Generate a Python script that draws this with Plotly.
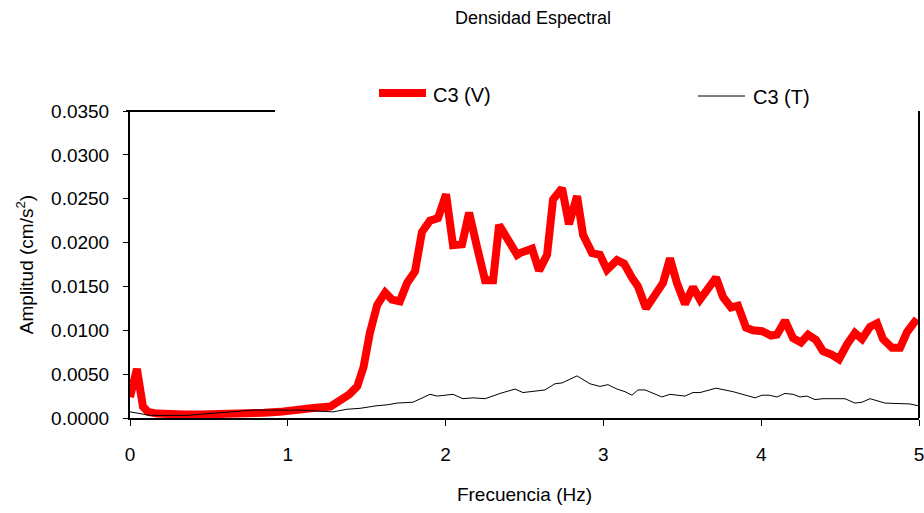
import plotly.graph_objects as go

# C3 (V) - red thick series
freq_v = [0.000, 0.044, 0.082, 0.114, 0.171, 0.25, 0.35, 0.45, 0.55, 0.65, 0.75, 0.85, 0.95, 1.05,
          1.147, 1.27, 1.33, 1.39, 1.44, 1.48, 1.52, 1.567, 1.617, 1.66, 1.71, 1.756, 1.806, 1.85,
          1.901, 1.952, 2.003, 2.047, 2.104, 2.149, 2.199, 2.250, 2.301, 2.339, 2.396, 2.453,
          2.47, 2.548, 2.592, 2.643, 2.681, 2.738, 2.782, 2.833, 2.871, 2.928, 2.978, 3.023,
          3.086, 3.131, 3.181, 3.219, 3.270, 3.327, 3.378, 3.422, 3.466, 3.517, 3.568, 3.612,
          3.663, 3.714, 3.758, 3.809, 3.853, 3.904, 3.948, 4.005, 4.062, 4.100, 4.151, 4.202,
          4.252, 4.297, 4.347, 4.392, 4.449, 4.493, 4.544, 4.594, 4.639, 4.690, 4.734, 4.772,
          4.829, 4.880, 4.924, 4.987]
amp_v = [0.0024, 0.0056, 0.0013, 0.0007, 0.0005, 0.0004, 0.0004, 0.0004, 0.0004, 0.0005, 0.0005,
         0.0006, 0.0007, 0.0008, 0.0011, 0.0013, 0.0019, 0.0027, 0.0036, 0.0058, 0.0097, 0.0129,
         0.0143, 0.0135, 0.0133, 0.0154, 0.0167, 0.0212, 0.0225, 0.0228, 0.0255, 0.0197, 0.0198,
         0.0234, 0.0195, 0.0157, 0.0157, 0.0220, 0.0203, 0.0186, 0.0188, 0.0193, 0.0168, 0.0186,
         0.0249, 0.0262, 0.0221, 0.0253, 0.0209, 0.0188, 0.0186, 0.0169, 0.0180, 0.0176, 0.0160,
         0.0150, 0.0125, 0.0140, 0.0154, 0.0182, 0.0154, 0.0130, 0.0149, 0.0135, 0.0146, 0.0160,
         0.0138, 0.0126, 0.0128, 0.0103, 0.0100, 0.0099, 0.0094, 0.0095, 0.0111, 0.0091, 0.0086,
         0.0095, 0.0089, 0.0076, 0.0072, 0.0067, 0.0084, 0.0097, 0.0090, 0.0104, 0.0108, 0.0090,
         0.0080, 0.0080, 0.0098, 0.0113]

# C3 (T) - thin black series
freq_t = [0.000, 0.127, 0.361, 0.570, 0.779, 1.077, 1.286, 1.375, 1.457, 1.565, 1.629, 1.692,
          1.793, 1.901, 1.946, 2.047, 2.110, 2.174, 2.250, 2.345, 2.440, 2.490, 2.630, 2.693,
          2.738, 2.833, 2.915, 2.978, 3.029, 3.086, 3.137, 3.181, 3.219, 3.264, 3.371, 3.422,
          3.517, 3.568, 3.612, 3.714, 3.822, 3.961, 4.005, 4.049, 4.100, 4.151, 4.202, 4.246,
          4.290, 4.341, 4.392, 4.531, 4.594, 4.639, 4.690, 4.785, 4.880, 4.943, 4.994]
amp_t = [0.0007, 0.0003, 0.0003, 0.0006, 0.0009, 0.0009, 0.0007, 0.0010, 0.0011, 0.0014, 0.0015,
         0.0017, 0.0018, 0.0027, 0.0025, 0.0027, 0.0022, 0.0023, 0.0022, 0.0028, 0.0033, 0.0029,
         0.0032, 0.0039, 0.0040, 0.0048, 0.0039, 0.0036, 0.0038, 0.0033, 0.0030, 0.0026, 0.0032,
         0.0032, 0.0024, 0.0027, 0.0025, 0.0029, 0.0029, 0.0034, 0.0030, 0.0023, 0.0026, 0.0026,
         0.0024, 0.0028, 0.0027, 0.0024, 0.0025, 0.0021, 0.0022, 0.0022, 0.0017, 0.0018, 0.0022,
         0.0017, 0.0016, 0.0016, 0.0014]

x_ticks = [0, 1, 2, 3, 4, 5]
y_ticks = [0.0, 0.005, 0.010, 0.015, 0.020, 0.025, 0.030, 0.035]
y_tick_text = ["0.0000", "0.0050", "0.0100", "0.0150", "0.0200", "0.0250", "0.0300", "0.0350"]

FONT = "Liberation Sans, Arial, sans-serif"

fig = go.Figure()
fig.add_trace(go.Scatter(x=freq_v, y=amp_v, mode="lines", name="C3 (V)",
                         line=dict(color="#ff0000", width=8), showlegend=False))
fig.add_trace(go.Scatter(x=freq_t, y=amp_t, mode="lines", name="C3 (T)",
                         line=dict(color="#000000", width=1), showlegend=False))

W, H = 924, 513
L, R, T, B = 130, 5, 111, 95
pw, ph = W - L - R, H - T - B

def px(xp):
    return (xp - L) / pw

def py(yp):
    return (H - B - yp) / ph

shapes = [
    # partial top border
    dict(type="line", xref="paper", yref="paper", x0=px(126), x1=px(275), y0=1, y1=1,
         line=dict(color="black", width=2)),
    # right border
    dict(type="line", xref="paper", yref="paper", x0=1, x1=1, y0=0, y1=1,
         line=dict(color="black", width=2)),
    # legend samples
    dict(type="line", xref="paper", yref="paper", x0=px(379), x1=px(426), y0=py(93), y1=py(93),
         line=dict(color="#ff0000", width=8)),
    dict(type="line", xref="paper", yref="paper", x0=px(698), x1=px(745), y0=py(96), y1=py(96),
         line=dict(color="black", width=1)),
]
annotations = [
    dict(text="C3 (V)", xref="paper", yref="paper", x=px(431), y=py(95), xanchor="left",
         yanchor="middle", showarrow=False, font=dict(family=FONT, size=20, color="black")),
    dict(text="C3 (T)", xref="paper", yref="paper", x=px(751), y=py(97), xanchor="left",
         yanchor="middle", showarrow=False, font=dict(family=FONT, size=20, color="black")),
]

fig.update_layout(
    width=W, height=H,
    margin=dict(l=L, r=R, t=T, b=B),
    paper_bgcolor="white", plot_bgcolor="white",
    font=dict(family=FONT, color="black"),
    title=dict(text="Densidad Espectral", x=533 / W, xanchor="center", y=1 - 18 / H,
               yanchor="middle", font=dict(family=FONT, size=18, color="black")),
    shapes=shapes, annotations=annotations,
    showlegend=False,
)
fig.update_xaxes(range=[0, 5], tickvals=x_ticks, ticks="outside", ticklen=6, tickwidth=1,
                 tickcolor="black", showline=True, linecolor="black", linewidth=2,
                 showgrid=False, zeroline=False, tickfont=dict(size=19),
                 ticklabeloverflow="allow", ticklabelstandoff=12, automargin=False,
                 title=dict(text="Frecuencia (Hz)", font=dict(size=19), standoff=24))
fig.update_yaxes(range=[0, 0.035], tickvals=y_ticks, ticktext=y_tick_text, ticks="outside",
                 ticklen=5, tickwidth=1, tickcolor="black", showline=True, linecolor="black",
                 linewidth=2, showgrid=False, zeroline=False, tickfont=dict(size=19),
                 ticklabelstandoff=10, automargin=False,
                 title=dict(text="Amplitud (cm/s<sup>2</sup>)", font=dict(size=19), standoff=12))

fig.write_html("out.html")
